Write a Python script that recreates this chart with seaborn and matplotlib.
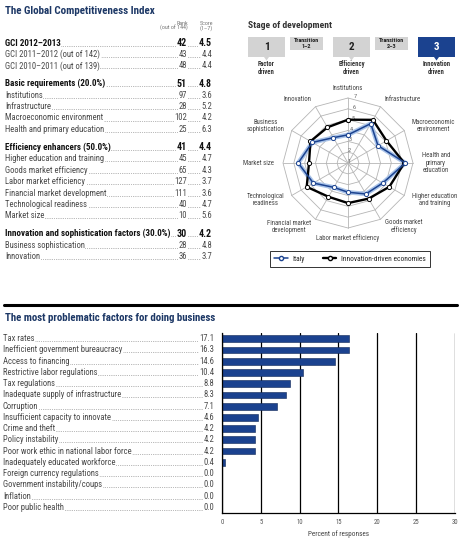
import matplotlib
matplotlib.use('Agg')

import numpy as np
import matplotlib.pyplot as plt
import seaborn as sns
from matplotlib import transforms
from matplotlib.lines import Line2D
from matplotlib.patches import Rectangle, Polygon

sns.set_style('white')
plt.rcParams['font.family'] = ['Roboto Condensed', 'Liberation Sans Narrow', 'Roboto',
                               'DejaVu Sans']

# ---------------- data ----------------
gci_labels = ['GCI 2012\u20132013', 'GCI 2011\u20132012 (out of 142)', 'GCI 2010\u20132011 (out of 139)',
              'Basic requirements (20.0%)', 'Institutions', 'Infrastructure',
              'Macroeconomic environment', 'Health and primary education',
              'Efficiency enhancers (50.0%)', 'Higher education and training',
              'Goods market efficiency', 'Labor market efficiency',
              'Financial market development', 'Technological readiness', 'Market size',
              'Innovation and sophistication factors (30.0%)', 'Business sophistication',
              'Innovation']
gci_ranks = ['42', '43', '48', '51', '97', '28', '102', '25', '41', '45', '65', '127',
             '111', '40', '10', '30', '28', '36']
gci_scores = ['4.5', '4.4', '4.4', '4.8', '3.6', '5.2', '4.2', '6.3', '4.4', '4.7', '4.3',
              '3.7', '3.6', '4.7', '5.6', '4.2', '4.8', '3.7']
gci_bold = [True, False, False, True, False, False, False, False, True, False, False,
            False, False, False, False, True, False, False]

stage_labels = ['1', 'Transition\n1\u20132', '2', 'Transition\n2\u20133', '3']
stage_names = ['Factor\ndriven', '', 'Efficiency\ndriven', '', 'Innovation\ndriven']
current_stage = 4

pillars = ['Institutions', 'Infrastructure', 'Macroeconomic\nenvironment',
           'Health and\nprimary\neducation', 'Higher education\nand training',
           'Goods market\nefficiency', 'Labor market efficiency',
           'Financial market\ndevelopment', 'Technological\nreadiness', 'Market size',
           'Business\nsophistication', 'Innovation']
italy_scores = [3.6, 5.2, 4.2, 6.3, 4.7, 4.3, 3.7, 3.6, 4.7, 5.6, 4.8, 3.7]
innovation_scores = [5.0, 5.6, 5.1, 6.2, 5.4, 4.8, 4.7, 4.6, 5.4, 4.6, 5.0, 4.8]

factors = ['Tax rates', 'Inefficient government bureaucracy', 'Access to financing',
           'Restrictive labor regulations', 'Tax regulations',
           'Inadequate supply of infrastructure', 'Corruption',
           'Insufficient capacity to innovate', 'Crime and theft', 'Policy instability',
           'Poor work ethic in national labor force', 'Inadequately educated workforce',
           'Foreign currency regulations', 'Government instability/coups', 'Inflation',
           'Poor public health']
factor_pct = [17.1, 16.3, 14.6, 10.4, 8.8, 8.3, 7.1, 4.6, 4.2, 4.2, 4.2, 0.4,
              0.0, 0.0, 0.0, 0.0]
# bar lengths as drawn in the source (top bar is drawn at the 16.3 level)
bar_pct = [16.3, 16.3, 14.6, 10.4, 8.8, 8.3, 7.1, 4.6, 4.2, 4.2, 4.2, 0.4,
           0.0, 0.0, 0.0, 0.0]

NAVY = '#1d3866'
BLUE = '#1b428f'
TXT = '#4a4a4a'
W, H = 460, 542

fig = plt.figure(figsize=(W / 100, H / 100), dpi=100)

# overlay in pixel coordinates for the table parts
ax0 = fig.add_axes([0, 0, 1, 1])
ax0.set_xlim(0, W)
ax0.set_ylim(H, 0)
ax0.axis('off')

white_box = dict(facecolor='white', edgecolor='none', pad=0.4)

# ============ 1. GCI TABLE ============
ax0.text(5, 11, 'The Global Competitiveness Index', fontsize=7.9, fontweight='bold',
         color=NAVY, va='center')
ax0.text(188, 26, 'Rank\n(out of 144)', fontsize=4.3, color='#777', ha='right',
         va='center', linespacing=0.95)
ax0.text(213, 26, 'Score\n(1\u20137)', fontsize=4.3, color='#777', ha='right',
         va='center', linespacing=0.95)

y = 43
for i, (lab, rk, sc, bold) in enumerate(zip(gci_labels, gci_ranks, gci_scores, gci_bold)):
    if i > 0:
        y += 11.4 + (6.6 if bold else 0)
    col = '#111' if bold else TXT
    fw = 'bold' if bold else 'normal'
    fs = 6.5 if bold else 6.2
    ax0.plot([6, 211], [y + 2.6, y + 2.6], color='#888', lw=0.6,
             linestyle=(0, (0.8, 1.4)), zorder=1)
    ax0.text(5, y, lab, fontsize=fs, fontweight=fw, color=col, va='center',
             bbox=white_box, zorder=2)
    ax0.text(187, y, rk, fontsize=fs + (0.6 if bold else 0), fontweight=fw, color=col,
             ha='right', va='center', bbox=white_box, zorder=2)
    ax0.text(212, y, sc, fontsize=fs + (0.6 if bold else 0), fontweight=fw, color=col,
             ha='right', va='center', bbox=white_box, zorder=2)

# ============ 2. STAGE OF DEVELOPMENT ============
ax0.text(248, 25, 'Stage of development', fontsize=6.8, fontweight='bold', color='#333',
         va='center')
box_x = [248, 290, 333, 375, 418]
box_w = [37, 33, 37, 33, 37]
for k, (lab, name) in enumerate(zip(stage_labels, stage_names)):
    is_main = lab in ('1', '2', '3')
    h = 20 if is_main else 13
    fc = BLUE if k == current_stage else '#d3d3d3'
    tc = 'white' if k == current_stage else '#222'
    ax0.add_patch(Rectangle((box_x[k], 37), box_w[k], h, facecolor=fc, edgecolor='none'))
    cx = box_x[k] + box_w[k] / 2
    if is_main:
        ax0.text(cx, 47, lab, fontsize=8, fontweight='bold', color=tc, ha='center',
                 va='center')
        ax0.add_patch(Polygon([[cx - 2.5, 57], [cx + 2.5, 57], [cx, 60.5]],
                              facecolor=fc, edgecolor='none'))
        ax0.text(cx, 68.5, name, fontsize=4.8, fontweight='bold', color='#333',
                 ha='center', va='center', linespacing=1.0)
    else:
        ax0.text(cx, 43.5, lab, fontsize=4.4, fontweight='bold', color='#222',
                 ha='center', va='center', linespacing=1.0)

# ============ 3. RADAR ============
cx_r, cy_r, rad = 348, 163, 65
axr = fig.add_axes([(cx_r - rad) / W, 1 - (cy_r + rad) / H, 2 * rad / W, 2 * rad / H],
                   projection='polar')
axr.set_theta_zero_location('N')
axr.set_theta_direction(-1)
axr.set_ylim(1, 7)
axr.axis('off')

n = len(pillars)
angles = np.linspace(0, 2 * np.pi, n, endpoint=False)
closed = np.append(angles, angles[0])
for r in range(2, 8):
    axr.plot(closed, [r] * (n + 1), color='#b5b5b5', lw=0.6, clip_on=False, zorder=1)
for a in angles:
    axr.plot([a, a], [1, 7], color='#b5b5b5', lw=0.6, clip_on=False, zorder=1)
for r in range(1, 8):
    axr.text(0.11 if r > 1 else 0.6, r + 0.15, str(r), fontsize=4.6, color='#666',
             ha='center', va='center', zorder=2)

it = np.append(italy_scores, italy_scores[0])
inn = np.append(innovation_scores, innovation_scores[0])
axr.plot(closed, inn, color='black', lw=1.7, marker='o', ms=3, mfc='white',
         mec='black', mew=0.7, clip_on=False, zorder=4)
axr.plot(closed, it, color='#a9c3e8', lw=3.2, clip_on=False, zorder=3)
axr.plot(closed, it, color=BLUE, lw=1.1, marker='o', ms=3, mfc='white', mec=BLUE,
         mew=0.7, clip_on=False, zorder=5)

for a, lab in zip(angles, pillars):
    s, c = np.sin(a), np.cos(a)
    ha = 'left' if s > 0.2 else ('right' if s < -0.2 else 'center')
    va = 'bottom' if c > 0.9 else ('top' if c < -0.9 else 'center')
    rr = 7.6 if abs(c) > 0.9 else 7.8
    axr.text(a, rr, lab, fontsize=4.9, color='#444', ha=ha, va=va,
             multialignment='center', linespacing=1.05)

handles = [Line2D([], [], color=BLUE, lw=1.1, marker='o', ms=3, mfc='white', mec=BLUE),
           Line2D([], [], color='black', lw=1.7, marker='o', ms=3, mfc='white',
                  mec='black')]
leg = fig.legend(handles, ['Italy', 'Innovation-driven economies'], loc='center',
                 bbox_to_anchor=(350 / W, 1 - 259 / H), ncol=2, fontsize=5.4,
                 frameon=True, fancybox=False, edgecolor='black', handlelength=1.8,
                 columnspacing=2.4, borderpad=0.6, handletextpad=0.6)
leg.get_frame().set_linewidth(0.7)
leg.set_bbox_to_anchor((350 / W, 1 - 259 / H), transform=fig.transFigure)

# ============ 4. SEPARATOR + PROBLEMATIC FACTORS ============
ax0.plot([4, 457], [305, 305], color='black', lw=2.2)
ax0.text(5, 318, 'The most problematic factors for doing business', fontsize=7.8,
         fontweight='bold', color=NAVY, va='center')

axb = fig.add_axes([222 / W, 1 - 513 / H, 233 / W, 180 / H])
sns.barplot(x=bar_pct, y=factors, orient='h', color=BLUE, width=0.6,
            edgecolor='#0e2555', linewidth=0.4, saturation=1, ax=axb)
axb.set_xlim(0, 30)
axb.set_ylim(len(factors) - 0.5, -0.5)
axb.set_xticks(range(0, 31, 5))
axb.tick_params(axis='x', labelsize=4.9, labelcolor='#555', length=0, pad=4)
axb.set_yticks([])
axb.set_ylabel('')
axb.set_xlabel('Percent of responses', fontsize=5.2, color='#444', labelpad=3)
axb.grid(axis='x', color='black', lw=0.9)
axb.set_axisbelow(True)
for side in ['top', 'right']:
    axb.spines[side].set_visible(False)
for side in ['left', 'bottom']:
    axb.spines[side].set_color('black')
    axb.spines[side].set_linewidth(0.9)

blend = transforms.blended_transform_factory(ax0.transData, axb.transData)
for j, (lab, val) in enumerate(zip(factors, factor_pct)):
    ax0.plot([4, 212], [j + 0.22, j + 0.22], color='#888', lw=0.6,
             linestyle=(0, (0.8, 1.4)), transform=blend, clip_on=False, zorder=1)
    ax0.text(3, j, lab, fontsize=6.2, color=TXT, va='center', transform=blend,
             bbox=white_box, zorder=2)
    ax0.text(214, j, f'{val:.1f}', fontsize=6.2, color=TXT, ha='right', va='center',
             transform=blend, bbox=white_box, zorder=2)

fig.savefig('out.png', dpi=100)
plt.close(fig)
